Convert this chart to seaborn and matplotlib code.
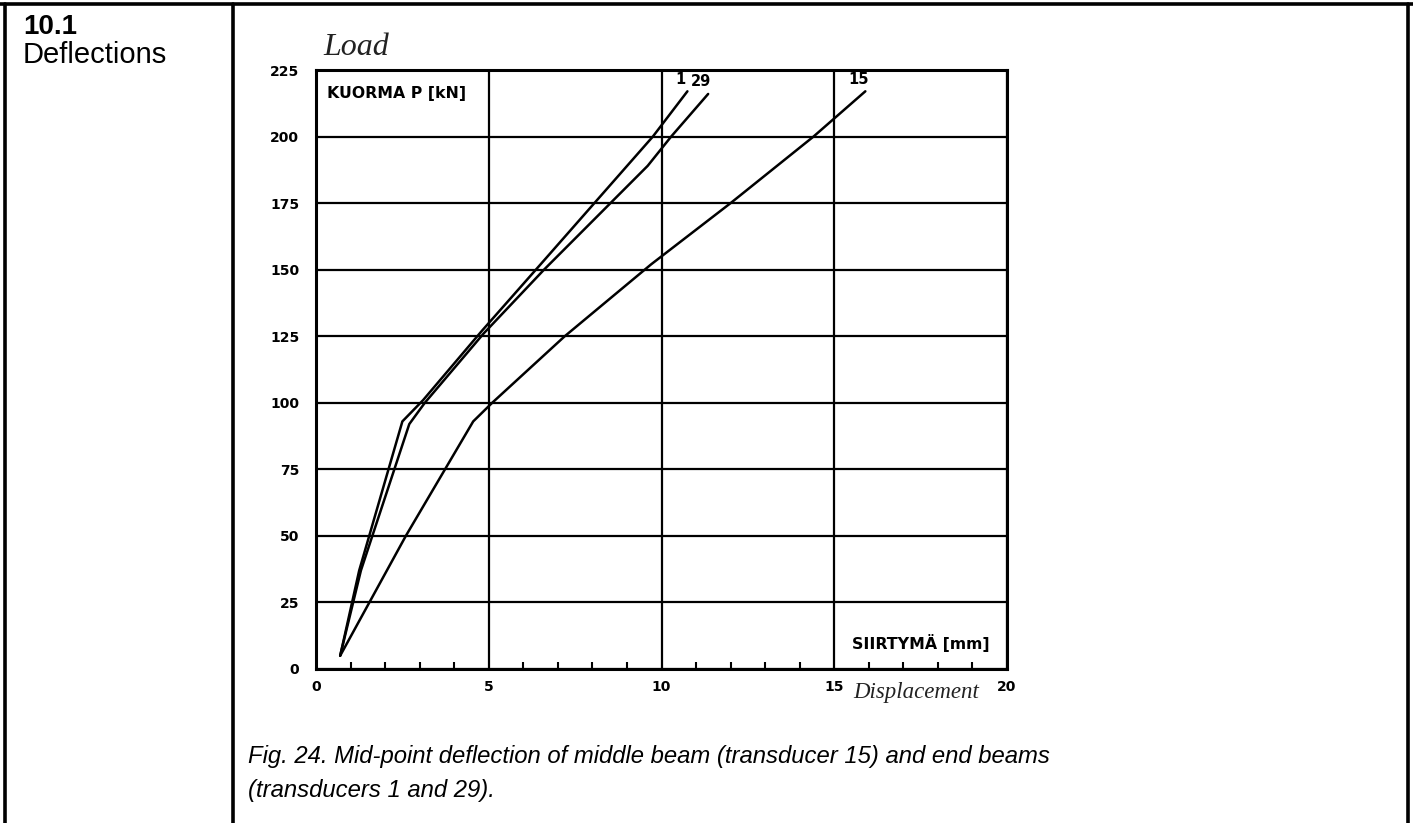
import matplotlib
matplotlib.use("Agg")
import matplotlib.pyplot as plt
from matplotlib.lines import Line2D
from matplotlib.ticker import MultipleLocator
import seaborn as sns
import pandas as pd

# ---- data ----
series_names = ["1", "29", "15"]
disp_1 = [0.7, 1.25, 2.5, 3.1, 4.8, 6.5, 9.75, 10.75]
load_1 = [5, 37, 93, 101, 127, 152, 200, 217]
disp_29 = [0.7, 1.3, 2.7, 3.15, 4.85, 6.6, 9.6, 10.28, 11.35]
load_29 = [5, 37, 92, 100, 126, 150, 189, 200, 216]
disp_15 = [0.7, 2.6, 4.55, 5.1, 7.2, 9.7, 12.0, 14.4, 15.9]
load_15 = [5, 50, 93, 100, 125, 152, 175, 200, 217]
x_ticks = [0, 5, 10, 15, 20]
y_ticks = [0, 25, 50, 75, 100, 125, 150, 175, 200, 225]

frames = []
for name, xs, ys in zip(series_names, [disp_1, disp_29, disp_15], [load_1, load_29, load_15]):
    frames.append(pd.DataFrame({"disp": xs, "load": ys, "series": name}))
df = pd.concat(frames, ignore_index=True)

sns.set_theme(style="white")
plt.rcParams["font.family"] = ["DejaVu Sans"]
plt.rcParams["text.color"] = "black"

fig = plt.figure(figsize=(14.13, 8.23), dpi=100)
fig.patch.set_facecolor("white")
ax = fig.add_axes([316 / 1413, 1 - 669 / 823, 691 / 1413, 599 / 823])
ax.set_facecolor("white")

sns.lineplot(data=df, x="disp", y="load", hue="series", sort=False, estimator=None,
             palette={n: "black" for n in series_names}, legend=False,
             linewidth=1.8, ax=ax)

ax.set_xlim(0, 20)
ax.set_ylim(0, 225)
ax.set_xticks(x_ticks)
ax.set_yticks(y_ticks)
ax.xaxis.set_minor_locator(MultipleLocator(1))
ax.grid(True, which="major", color="black", linewidth=1.6)
ax.tick_params(axis="both", which="major", length=0, labelsize=10, colors="black")
ax.tick_params(axis="y", which="major", pad=12)
ax.tick_params(axis="x", which="major", pad=8)
ax.tick_params(axis="x", which="minor", direction="in", length=5, width=1.5,
               color="black", bottom=True)
for lab in ax.get_xticklabels() + ax.get_yticklabels():
    lab.set_fontweight("bold")
for sp in ax.spines.values():
    sp.set_visible(True)
    sp.set_color("black")
    sp.set_linewidth(2.2)
ax.set_xlabel("")
ax.set_ylabel("")

# series labels at line ends
for name, xs, ys in zip(series_names, [disp_1, disp_29, disp_15], [load_1, load_29, load_15]):
    ax.text(xs[-1] - 0.2, ys[-1] + 1.8, name, ha="center", va="bottom",
            fontsize=10.5, fontweight="bold", color="black")

ax.text(0.016, 0.9616, "KUORMA P [kN]", transform=ax.transAxes, ha="left",
        va="center", fontsize=11.3, fontweight="bold", color="black")
ax.text(0.975, 0.0434, "SIIRTYMÄ [mm]", transform=ax.transAxes, ha="right",
        va="center", fontsize=11.3, fontweight="bold", color="black")

# handwritten annotations
hand = ["Liberation Serif", "DejaVu Serif"]
ax.text(0.01, 1.013, "Load", transform=ax.transAxes, ha="left", va="bottom",
        fontsize=23, style="italic", color="#222222", family=hand)
ax.text(0.778, -0.04, "Displacement", transform=ax.transAxes, ha="left", va="center",
        fontsize=16.5, style="italic", color="#222222", family=hand)

# document table frame
lw = 2.6
fig.add_artist(Line2D([0, 1], [1 - 4 / 823] * 2, transform=fig.transFigure, color="black", lw=lw))
for xpx in (5, 233, 1408):
    fig.add_artist(Line2D([xpx / 1413] * 2, [0, 1 - 4 / 823], transform=fig.transFigure,
                          color="black", lw=lw))

fig.text(23 / 1413, 1 - 14 / 823, "10.1", ha="left", va="top", fontsize=20,
         fontweight="bold", color="black", family=["Liberation Sans", "DejaVu Sans"])
fig.text(23 / 1413, 1 - 41 / 823, "Deflections", ha="left", va="top", fontsize=21,
         color="black", family=["Liberation Sans", "DejaVu Sans"])

cap_font = ["Liberation Sans", "DejaVu Sans"]
fig.text(248 / 1413, 1 - 757 / 823,
         "Fig. 24. Mid-point deflection of middle beam (transducer 15) and end beams",
         ha="left", va="center", fontsize=17.2, style="italic", color="black", family=cap_font)
fig.text(248 / 1413, 1 - 791 / 823, "(transducers 1 and 29).",
         ha="left", va="center", fontsize=17.2, style="italic", color="black", family=cap_font)

fig.savefig("out.png", dpi=100, facecolor="white")
